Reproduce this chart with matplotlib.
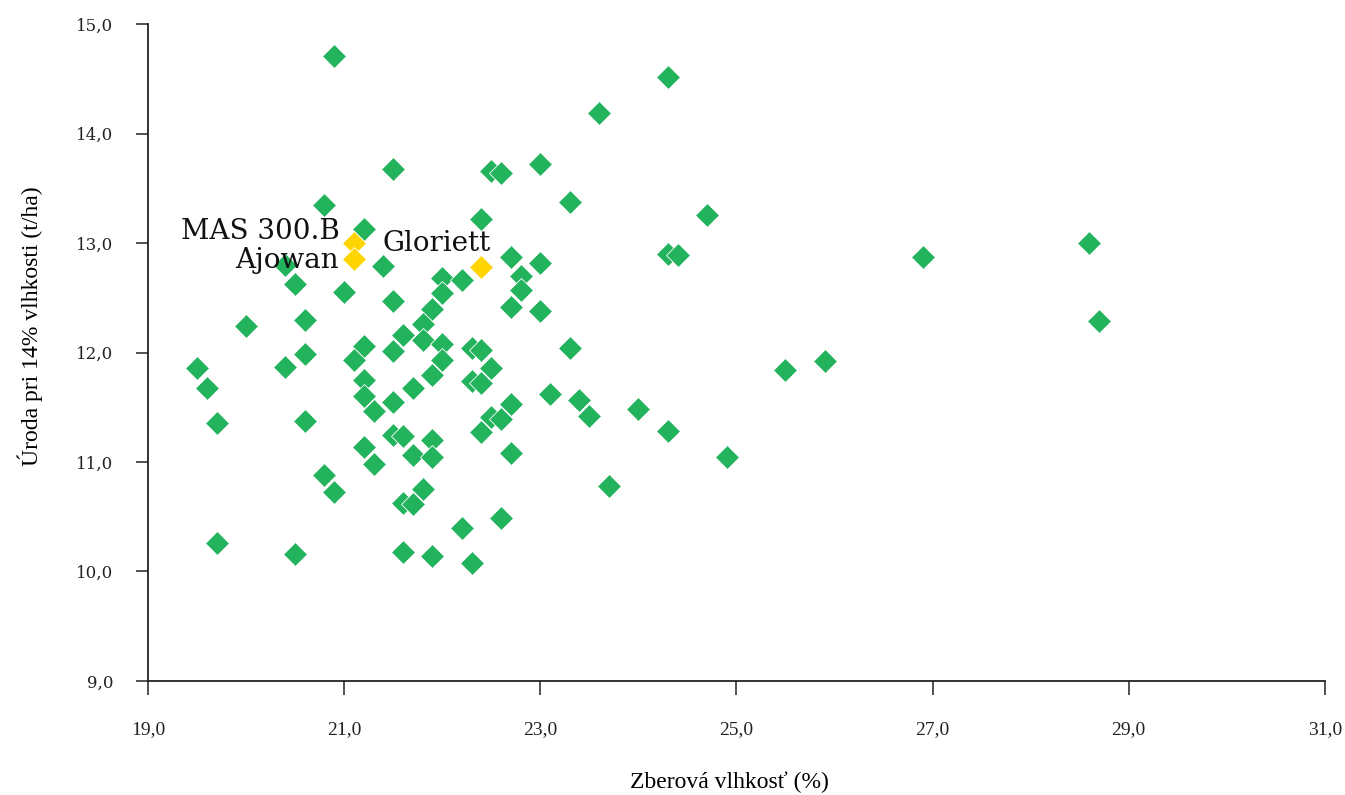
import numpy as np
import matplotlib
matplotlib.use("Agg")
import matplotlib.pyplot as plt

plt.rcParams.update({
    "font.family": "serif",
    "font.serif": ["Liberation Serif", "DejaVu Serif"],
    "axes.spines.top": False, "axes.spines.right": False,
    "figure.facecolor": "white",
})

# harvest moisture (%) and yield at 14% moisture (t/ha), all hybrids
moisture = [20.9, 24.3, 23.6, 21.5, 22.5, 22.6, 23.0, 20.8, 23.3, 24.7,
            21.2, 22.4, 28.6, 26.9, 24.3, 24.4, 22.7, 23.0, 20.4, 21.4,
            22.4, 20.5, 22.0, 22.2, 22.8, 21.0, 22.0, 22.8, 22.7, 21.5,
            21.9, 23.0, 20.6, 20.0, 28.7, 21.8, 21.6, 21.8, 22.0, 21.2,
            21.5, 22.3, 22.4, 23.3, 20.6, 22.0, 21.1, 25.9, 19.5, 20.4,
            22.5, 25.5, 21.9, 21.2, 22.3, 22.4, 21.7, 19.6, 21.2, 23.1,
            23.4, 21.5, 22.7, 21.3, 24.0, 23.5, 22.5, 22.6, 19.7, 20.6,
            24.3, 22.4, 21.5, 21.6, 21.9, 21.2, 22.7, 21.7, 21.9, 24.9,
            21.3, 20.8, 23.7, 20.9, 21.8, 21.6, 21.7, 22.6, 22.2, 19.7,
            20.5, 21.6, 21.9, 22.3]
yield_t = [14.71, 14.52, 14.19, 13.68, 13.66, 13.64, 13.72, 13.35, 13.37, 13.26,
           13.13, 13.22, 13.00, 12.87, 12.90, 12.89, 12.87, 12.82, 12.80, 12.79,
           12.78, 12.63, 12.68, 12.66, 12.70, 12.55, 12.54, 12.57, 12.42, 12.47,
           12.40, 12.38, 12.30, 12.24, 12.29, 12.26, 12.16, 12.11, 12.08, 12.06,
           12.01, 12.04, 12.02, 12.04, 11.99, 11.93, 11.93, 11.92, 11.86, 11.87,
           11.86, 11.84, 11.79, 11.75, 11.74, 11.72, 11.68, 11.68, 11.60, 11.62,
           11.57, 11.55, 11.53, 11.47, 11.48, 11.42, 11.41, 11.39, 11.36, 11.37,
           11.28, 11.27, 11.25, 11.24, 11.20, 11.14, 11.08, 11.06, 11.05, 11.05,
           10.98, 10.88, 10.78, 10.73, 10.75, 10.63, 10.62, 10.49, 10.40, 10.26,
           10.16, 10.18, 10.14, 10.08]

# highlighted hybrids
hl_names = ["MAS 300.B", "Ajowan", "Gloriett"]
hl_moisture = [21.1, 21.1, 22.4]
hl_yield = [13.00, 12.85, 12.78]
hl_offsets = [(-10, 8), (-11, -1), (-32, 17)]
hl_ha = ["right", "right", "center"]

xticks = [19, 21, 23, 25, 27, 29, 31]
yticks = [9, 10, 11, 12, 13, 14, 15]

GREEN = "#22B35C"
YELLOW = "#FFD400"

fig = plt.figure(figsize=(13.45, 7.95), dpi=100)
ax = fig.add_axes([0.110, 0.1434, 0.875, 0.8264])

ax.plot(moisture, yield_t, ls="none", marker="D", ms=12, color=GREEN,
        mec="white", mew=0.6, zorder=3)
ax.plot(hl_moisture, hl_yield, ls="none", marker="D", ms=12, color=YELLOW,
        mec="white", mew=0.6, zorder=4)
for name, xv, yv, off, ha in zip(hl_names, hl_moisture, hl_yield,
                                  hl_offsets, hl_ha):
    ax.annotate(name, (xv, yv), xytext=off, textcoords="offset points",
                ha=ha, va="center", fontsize=20, family="DejaVu Serif",
                color="#111111", zorder=5)

ax.set_xlim(19, 31)
ax.set_ylim(9, 15)
ax.set_xticks(xticks)
ax.set_yticks(yticks)
ax.set_xticklabels([f"{v:.1f}".replace(".", ",") for v in xticks],
                   fontsize=14)
ax.set_yticklabels([f"{v:.1f}".replace(".", ",") for v in yticks],
                   fontsize=12, family="DejaVu Serif")
for s in ["left", "bottom"]:
    ax.spines[s].set_linewidth(1.3)
    ax.spines[s].set_color("#222222")
ax.tick_params(axis="x", length=10, width=1.1, pad=19, colors="#222222")
ax.tick_params(axis="y", length=9, width=1.1, pad=16, colors="#222222")
ax.set_xlabel("Zberová vlhkosť (%)", fontsize=17)
ax.set_ylabel("Úroda pri 14% vlhkosti (t/ha)", fontsize=17)
ax.xaxis.set_label_coords(0.494, -0.138)
ax.yaxis.set_label_coords(-0.089, 0.54)

fig.savefig("out.png", dpi=100)
